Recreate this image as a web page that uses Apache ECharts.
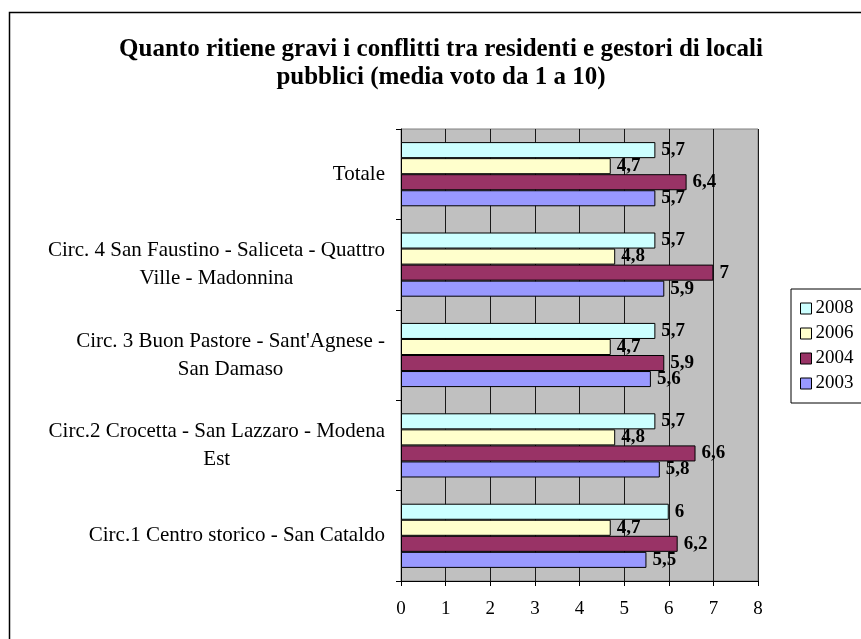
<!DOCTYPE html>
<html>
<head>
<meta charset="utf-8">
<script src="https://cdn.jsdelivr.net/npm/echarts@6/dist/echarts.min.js"></script>
<style>
 html, body { margin: 0; padding: 0; background: #fff; }
 #chart { width: 861px; height: 639px; }
</style>
</head>
<body>
<div id="chart"></div>
<script>
// categories from bottom to top (category axis runs upward)
var categories = [
  'Circ.1 Centro storico - San Cataldo',
  'Circ.2 Crocetta - San Lazzaro - Modena\nEst',
  "Circ. 3 Buon Pastore - Sant'Agnese -\nSan Damaso",
  'Circ. 4 San Faustino - Saliceta - Quattro\nVille - Madonnina',
  'Totale'
];
var years = ['2008', '2006', '2004', '2003'];
var v2008 = [6, 5.7, 5.7, 5.7, 5.7];
var v2006 = [4.7, 4.8, 4.7, 4.8, 4.7];
var v2004 = [6.2, 6.6, 5.9, 7, 6.4];
var v2003 = [5.5, 5.8, 5.6, 5.9, 5.7];
var xTicks = [0, 1, 2, 3, 4, 5, 6, 7, 8];

var serif = '"Liberation Serif", "Times New Roman", serif';

var chart = echarts.init(document.getElementById('chart'));

function bar(name, data, color) {
  return {
    name: name,
    type: 'bar',
    data: data,
    barGap: '0%',
    barCategoryGap: '29%',
    itemStyle: { color: color, borderColor: '#000', borderWidth: 1 },
    label: {
      show: true,
      position: 'right',
      distance: 6,
      fontFamily: serif,
      fontWeight: 'bold',
      fontSize: 19,
      color: '#000',
      formatter: function (p) { return String(p.value).replace('.', ','); }
    }
  };
}

var option = {
  backgroundColor: '#fff',
  animation: false,
  title: {
    text: 'Quanto ritiene gravi i conflitti tra residenti e gestori di locali\npubblici (media voto da 1 a 10)',
    left: 436,
    top: 31,
    textAlign: 'center',
    textStyle: {
      fontFamily: serif,
      fontWeight: 'bold',
      fontSize: 25,
      lineHeight: 28,
      color: '#000'
    }
  },
  legend: {
    data: years,
    orient: 'vertical',
    left: 791,
    top: 289,
    padding: [10, 20, 10, 9],
    itemGap: 6,
    itemWidth: 11,
    itemHeight: 11,
    icon: 'rect',
    borderColor: '#000',
    borderWidth: 1,
    backgroundColor: '#fff',
    borderRadius: 0,
    itemStyle: { borderColor: '#000', borderWidth: 1 },
    textStyle: { fontFamily: serif, fontSize: 19, color: '#000', padding: [0, 0, 0, -1] }
  },
  grid: {
    left: 401,
    right: 103,
    top: 129,
    bottom: 58,
    show: true,
    backgroundColor: '#C0C0C0',
    borderColor: '#808080',
    borderWidth: 1
  },
  xAxis: {
    type: 'value',
    min: xTicks[0],
    max: xTicks[xTicks.length - 1],
    interval: 1,
    axisLine: { show: true, lineStyle: { color: '#000' } },
    axisTick: { show: true, length: 5, lineStyle: { color: '#000' } },
    splitLine: { show: true, lineStyle: { color: '#1a1a1a', width: 1 } },
    axisLabel: { fontFamily: serif, fontSize: 19, color: '#000', margin: 19 }
  },
  yAxis: {
    type: 'category',
    data: categories,
    axisLine: { show: true, lineStyle: { color: '#000' } },
    axisTick: { show: true, length: 5, lineStyle: { color: '#000' } },
    axisLabel: {
      margin: 16,
      formatter: function (v) {
        return v.split('\n').map(function (s) { return '{c|' + s + '}'; }).join('\n');
      },
      rich: {
        c: { align: 'center', fontFamily: serif, fontSize: 21, lineHeight: 28, color: '#000' }
      }
    }
  },
  series: [
    bar('2008', v2008, '#CCFFFF'),
    bar('2006', v2006, '#FFFFCC'),
    bar('2004', v2004, '#993366'),
    bar('2003', v2003, '#9999FF')
  ],
  graphic: [{
    type: 'rect',
    shape: { x: 9.5, y: 12.5, width: 900, height: 700 },
    style: { fill: 'none', stroke: '#000', lineWidth: 1.5 },
    silent: true
  }]
};

chart.setOption(option);
</script>
</body>
</html>
